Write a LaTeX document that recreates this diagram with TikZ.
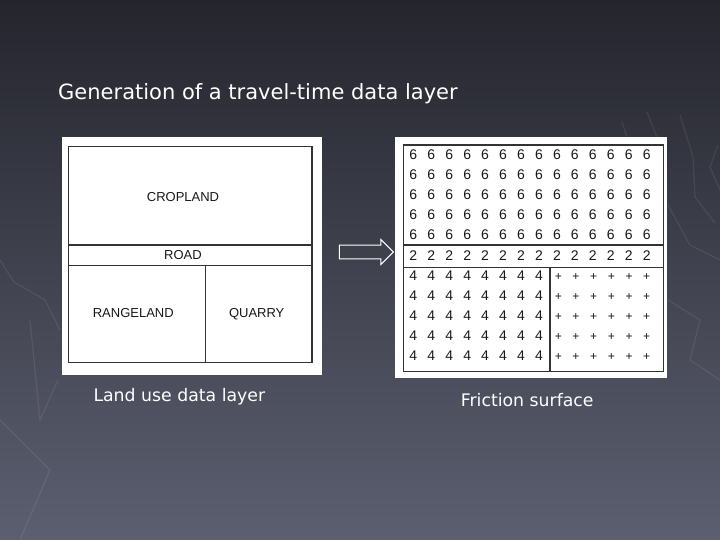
\documentclass[tikz,border=0pt]{standalone}
\usepackage{fontspec}
\setmainfont{DejaVu Sans}
\newfontfamily\mapfont{Liberation Sans}
\usetikzlibrary{shapes.arrows}

\begin{document}
\begin{tikzpicture}[x=1pt,y=-1pt]
	\tikzset{slidetext/.style={text=white,font=\fontsize{21}{24}\selectfont,inner sep=0pt,anchor=base west}}
	\tikzset{captext/.style={slidetext,font=\fontsize{17.3}{20}\selectfont}}
	\tikzset{mapframe/.style={fill=white,draw=none}}
	\tikzset{mapline/.style={draw=black!80,line width=1.1pt}}
	\tikzset{zone/.style={font=\mapfont\fontsize{13}{14}\selectfont,text=black!90,inner sep=0pt}}
	\tikzset{cell/.style={font=\mapfont\fontsize{14}{15}\selectfont,text=black!90,inner sep=0pt}}
	\tikzset{faint/.style={draw=white,opacity=0.08,line width=1.2pt}}
	% background
	\fill[top color={rgb,255:red,36;green,37;blue,45},bottom color={rgb,255:red,92;green,95;blue,112}] (0,0) rectangle (720,540);
	\useasboundingbox (0,0) rectangle (720,540);
	\draw[faint] (622,122) -- (628,140) -- (640,175);
	\draw[faint] (647,112) -- (658,140) -- (665,165);
	\draw[faint] (680,115) -- (693,157) -- (695,197) -- (715,223);
	\draw[faint] (718,145) -- (710,167) -- (720,190);
	\draw[faint] (668,205) -- (690,245) -- (720,260);
	\draw[faint] (668,300) -- (700,320) -- (690,360) -- (720,380);
	\draw[faint] (0,260) -- (14,282) -- (45,300) -- (60,330);
	\draw[faint] (30,320) -- (40,420) -- (58,380);
	\draw[faint] (0,420) -- (50,470) -- (20,540);
	% title
	\node[slidetext] (title) at (58,100) {Generation of a travel-time data layer};
	% land use layer
	\node[mapframe,minimum width=260pt,minimum height=238pt] (landuse) at (191.7,256) {};
	\draw[mapline] (68.3,146.7) rectangle (312,362.7);
	\coordinate (roadtop) at (68.3,245);
	\coordinate (roadbot) at (68.3,265.7);
	\draw[mapline] (roadtop) -- ++(243.7,0);
	\draw[mapline] (roadbot) -- ++(243.7,0);
	\draw[mapline] (205.7,265.7) -- (205.7,362.7);
	\node[zone] (crop) at (183,196.7) {CROPLAND};
	\node[zone] (road) at (183,255.3) {ROAD};
	\node[zone] (range) at (133.3,312.7) {RANGELAND};
	\node[zone] (quarry) at (256.7,314.3) {QUARRY};
	% arrow
	\node[single arrow,draw=white,line width=1pt,fill=none,minimum height=54pt,
		inner xsep=0pt,inner ysep=6.3pt,single arrow head extend=5.7pt] (arr) at (363,252) {};
	% friction surface
	\node[mapframe,minimum width=272pt,minimum height=240.7pt] (friction) at (531,257.7) {};
	\draw[mapline] (403.3,145) rectangle (663.3,371.7);
	\draw[mapline] (403.3,245) -- (663.3,245);
	\draw[mapline] (403.3,267.7) -- (663.3,267.7);
	\draw[mapline] (550,267.7) -- (550,371.7);
	\foreach \r in {0,...,4}
		\foreach \c in {0,...,13}
			\node[cell] (six-\r-\c) at (413.3+17.95*\c,155+20*\r) {6};
	\foreach \c in {0,...,13}
		\node[cell] (two-\c) at (413.3+17.95*\c,256) {2};
	\foreach \r in {0,...,4}{
		\foreach \c in {0,...,7}
			\node[cell] (four-\r-\c) at (413.3+17.95*\c,276+20*\r) {4};
		\foreach \c in {0,...,5}
			\node[cell,font=\mapfont\fontsize{12}{12}\selectfont] (plus-\r-\c) at (558.3+17.68*\c,277+20*\r) {+};
	}
	% captions
	\node[captext] (lucap) at (93.3,401) {Land use data layer};
	\node[captext] (frcap) at (460.7,406.7) {Friction surface};
\end{tikzpicture}
\end{document}
